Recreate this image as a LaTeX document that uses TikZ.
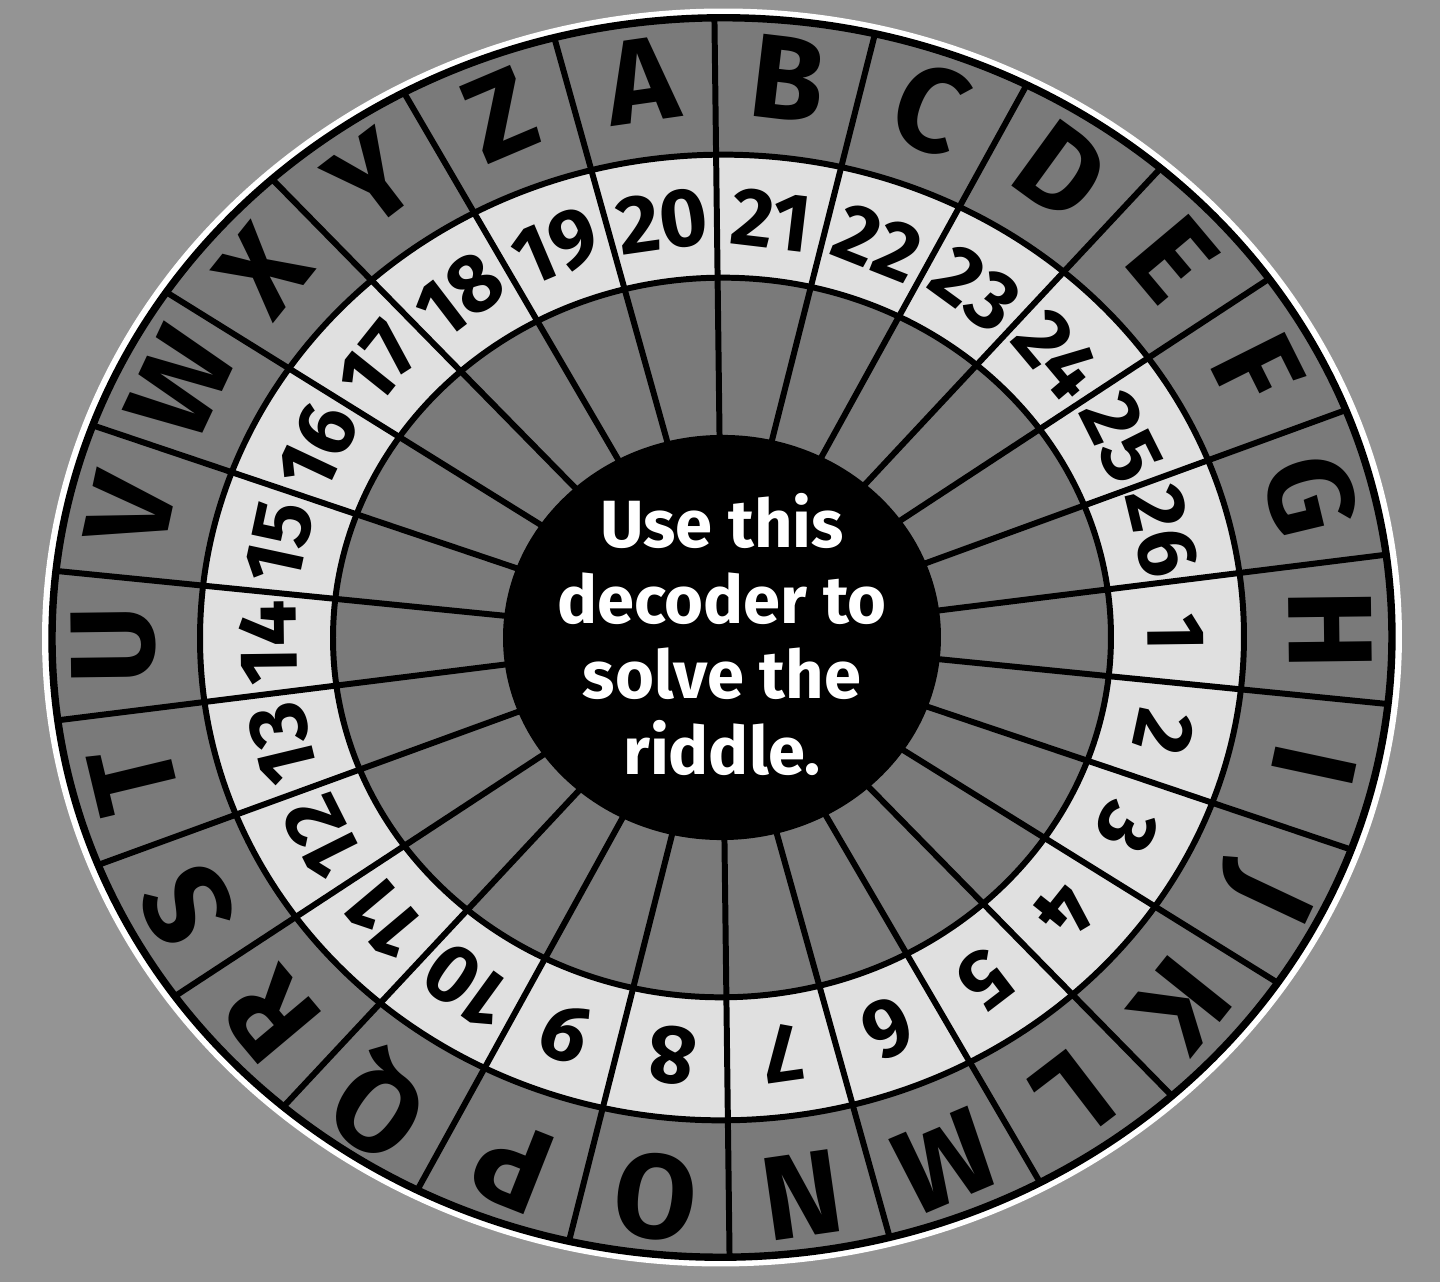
\documentclass[tikz,border=0pt]{standalone}
\usepackage{fontspec}
\setmainfont{Fira Sans}
\usepackage{tikz}
\definecolor{bggray}{gray}{0.58}
\definecolor{ringgray}{gray}{0.48}
\definecolor{numfill}{gray}{0.88}
\tikzset{
  wline/.style   ={line width=1.7pt, black},
  wletter/.style ={font=\fontsize{34}{34}\selectfont\bfseries, inner sep=0pt},
  wnum/.style    ={font=\fontsize{23.5}{23.5}\selectfont\bfseries, inner sep=0pt},
  wmsg/.style    ={font=\fontsize{19}{21.5}\selectfont\bfseries, text=white,
                   align=center, inner sep=0pt},
}

\begin{document}
\begin{tikzpicture}
\useasboundingbox[fill=bggray] (-7.22,-6.445) rectangle (7.18,6.375);
\begin{scope}[rotate=0.7, yscale=0.925]
\fill[white] (0,0) circle (6.80);
\draw[wline, line width=2.1pt, fill=ringgray] (0,0) circle (6.70);
\draw[wline, fill=numfill] (0,0) circle (5.22);
\draw[wline, fill=ringgray] (0,0) circle (3.89);
\foreach \k in {0,...,25}
  \draw[wline] (90-\k*360/26:2.1) -- (90-\k*360/26:6.70);
\fill[black] (0,0) circle (2.19);
\foreach \ch [count=\i from 0] in {A,...,Z} {
  \pgfmathsetmacro\ang{90+180/26-\i*360/26}
  \pgfmathsetmacro\rot{atan2(0.925*sin(\ang),cos(\ang))-89.3}
  \pgfmathtruncatemacro\num{mod(\i+19,26)+1}
  \node[wletter, rotate=\rot] (L\ch) at (\ang:6.08) {\ch};
  \node[wnum, rotate=\rot] (N\num) at (\ang:4.54) {\num};
}
\end{scope}
\node[wmsg] (msg) at (0,0.03) {Use this\\decoder to\\solve the\\riddle.};
\end{tikzpicture}
\end{document}
